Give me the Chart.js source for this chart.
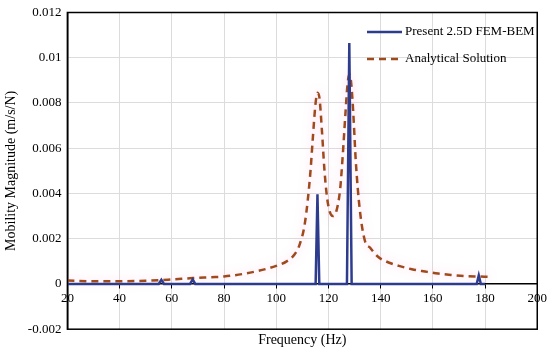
<!DOCTYPE html>
<html lang="en">
<head>
<meta charset="UTF-8">
<title>Mobility</title>
<script src="https://cdn.jsdelivr.net/npm/chart.js"></script>
<style>
    body { margin: 0; background: #fff; }
    #box { width: 550px; height: 353px; }
</style>
</head>
<body>
<div id="box"><canvas id="grafico" width="550" height="353"></canvas></div>
<script>
    // dados
    const xTicks = [20, 40, 60, 80, 100, 120, 140, 160, 180, 200];
    const yTicks = [-0.002, 0, 0.002, 0.004, 0.006, 0.008, 0.01, 0.012];

    const femFreq = [20, 55, 56, 57, 67, 68, 69, 115.1, 115.8, 116.5, 127.1, 128, 128.9, 176.8, 177.6, 178.4, 180];
    const femMag  = [0, 0, 0.00018, 0, 0, 0.0002, 0, 0, 0.00396, 0, 0, 0.01065, 0, 0, 0.00038, 0, 0];

    const anaFreq = [20, 30, 40, 50, 60, 68, 75, 80, 90, 100, 104, 107, 109, 111, 113, 114, 115, 115.8, 116.6, 117.5,
                     118.5, 119.5, 120.5, 121.7, 123, 124.5, 125.5, 126.5, 127.3, 128, 128.7, 129.5, 130.5, 132, 134,
                     136, 139, 142, 147, 152, 157, 162, 167, 172, 177, 181.5];
    const anaMag  = [0.00015, 0.00012, 0.00012, 0.00014, 0.0002, 0.00026, 0.0003, 0.00033, 0.0005, 0.0008, 0.001,
                     0.0013, 0.00175, 0.0027, 0.0048, 0.0064, 0.0079, 0.00845, 0.0082, 0.0068, 0.005, 0.0038, 0.0032,
                     0.003, 0.0032, 0.0042, 0.0057, 0.0075, 0.0088, 0.00926, 0.0089, 0.0076, 0.0054, 0.0033, 0.0019,
                     0.0016, 0.0012, 0.001, 0.0008, 0.00065, 0.00055, 0.00046, 0.0004, 0.00035, 0.00033, 0.00032];

    const fonte = 'Liberation Serif, Times New Roman, serif';

    function pontos(xs, ys) {
        return xs.map((x, i) => ({ x: x, y: ys[i] }));
    }

    // moldura em volta da area do grafico + legenda dentro
    const moldura = {
        id: 'moldura',
        beforeDatasetDraw(chart, args) {
            if (args.index === 1) {
                chart.ctx.save();
                chart.ctx.shadowColor = 'rgba(255,150,210,0.55)';
                chart.ctx.shadowBlur = 8;
            }
        },
        afterDatasetDraw(chart, args) {
            if (args.index === 1) chart.ctx.restore();
        },
        afterDraw(chart) {
            const ctx = chart.ctx;
            const a = chart.chartArea;
            ctx.save();
            ctx.strokeStyle = '#000';
            ctx.lineWidth = 1.5;
            ctx.strokeRect(a.left, a.top, a.right - a.left, a.bottom - a.top);

            ctx.font = '13px ' + fonte;
            ctx.fillStyle = '#000';
            ctx.textBaseline = 'middle';
            chart.data.datasets.forEach((ds, i) => {
                const y = 32 + i * 27;
                ctx.strokeStyle = ds.borderColor;
                ctx.lineWidth = ds.borderWidth;
                ctx.setLineDash(ds.borderDash || []);
                ctx.beginPath();
                ctx.moveTo(367, y);
                ctx.lineTo(402, y);
                ctx.stroke();
                ctx.setLineDash([]);
                ctx.fillText(ds.label, 405, y);
            });
            ctx.restore();
        }
    };

    new Chart(document.getElementById('grafico'), {
        type: 'scatter',
        data: {
            datasets: [{
                label: 'Present 2.5D FEM-BEM',
                data: pontos(femFreq, femMag),
                showLine: true,
                borderColor: '#2e3c8e',
                borderWidth: 2.5,
                pointRadius: 0,
                xAxisID: 'x'
            }, {
                label: 'Analytical Solution',
                data: pontos(anaFreq, anaMag),
                showLine: true,
                borderColor: '#9e4a1c',
                borderWidth: 2.5,
                borderDash: [7, 5],
                pointRadius: 0,
                cubicInterpolationMode: 'monotone',
                xAxisID: 'x'
            }]
        },
        options: {
            responsive: false,
            animation: false,
            layout: { padding: { left: 1, right: 7, top: 1, bottom: 4 } },
            plugins: { legend: { display: false }, tooltip: { enabled: false } },
            scales: {
                x: {
                    type: 'linear',
                    position: 'bottom',
                    min: 20, max: 200,
                    afterBuildTicks: s => { s.ticks = xTicks.map(v => ({ value: v })); },
                    ticks: { display: false },
                    grid: { color: '#dcdcdc', drawTicks: false },
                    border: { display: false },
                    title: { display: true, text: 'Frequency (Hz)', color: '#000',
                             font: { family: fonte, size: 14 }, padding: { top: 3, bottom: 0 } }
                },
                x2: {
                    type: 'linear',
                    position: { y: 0 },
                    min: 20, max: 200,
                    afterBuildTicks: s => { s.ticks = xTicks.map(v => ({ value: v })); },
                    ticks: { color: '#000', font: { family: fonte, size: 13 }, padding: 3, maxRotation: 0 },
                    grid: { drawOnChartArea: false, color: '#000', tickLength: 4 },
                    border: { color: '#000', width: 1.5 }
                },
                y: {
                    min: -0.002, max: 0.012,
                    afterBuildTicks: s => { s.ticks = yTicks.map(v => ({ value: v })); },
                    ticks: {
                        color: '#000', font: { family: fonte, size: 13, lineHeight: 1 }, padding: 6,
                        callback: v => String(+v.toFixed(4))
                    },
                    grid: { color: '#dcdcdc', drawTicks: false },
                    border: { color: '#000', width: 1.5 },
                    title: { display: true, text: 'Mobility Magnitude (m/s/N)', color: '#000',
                             font: { family: fonte, size: 14 }, padding: { top: 2, bottom: 2 } }
                }
            }
        },
        plugins: [moldura]
    });
</script>
</body>
</html>
